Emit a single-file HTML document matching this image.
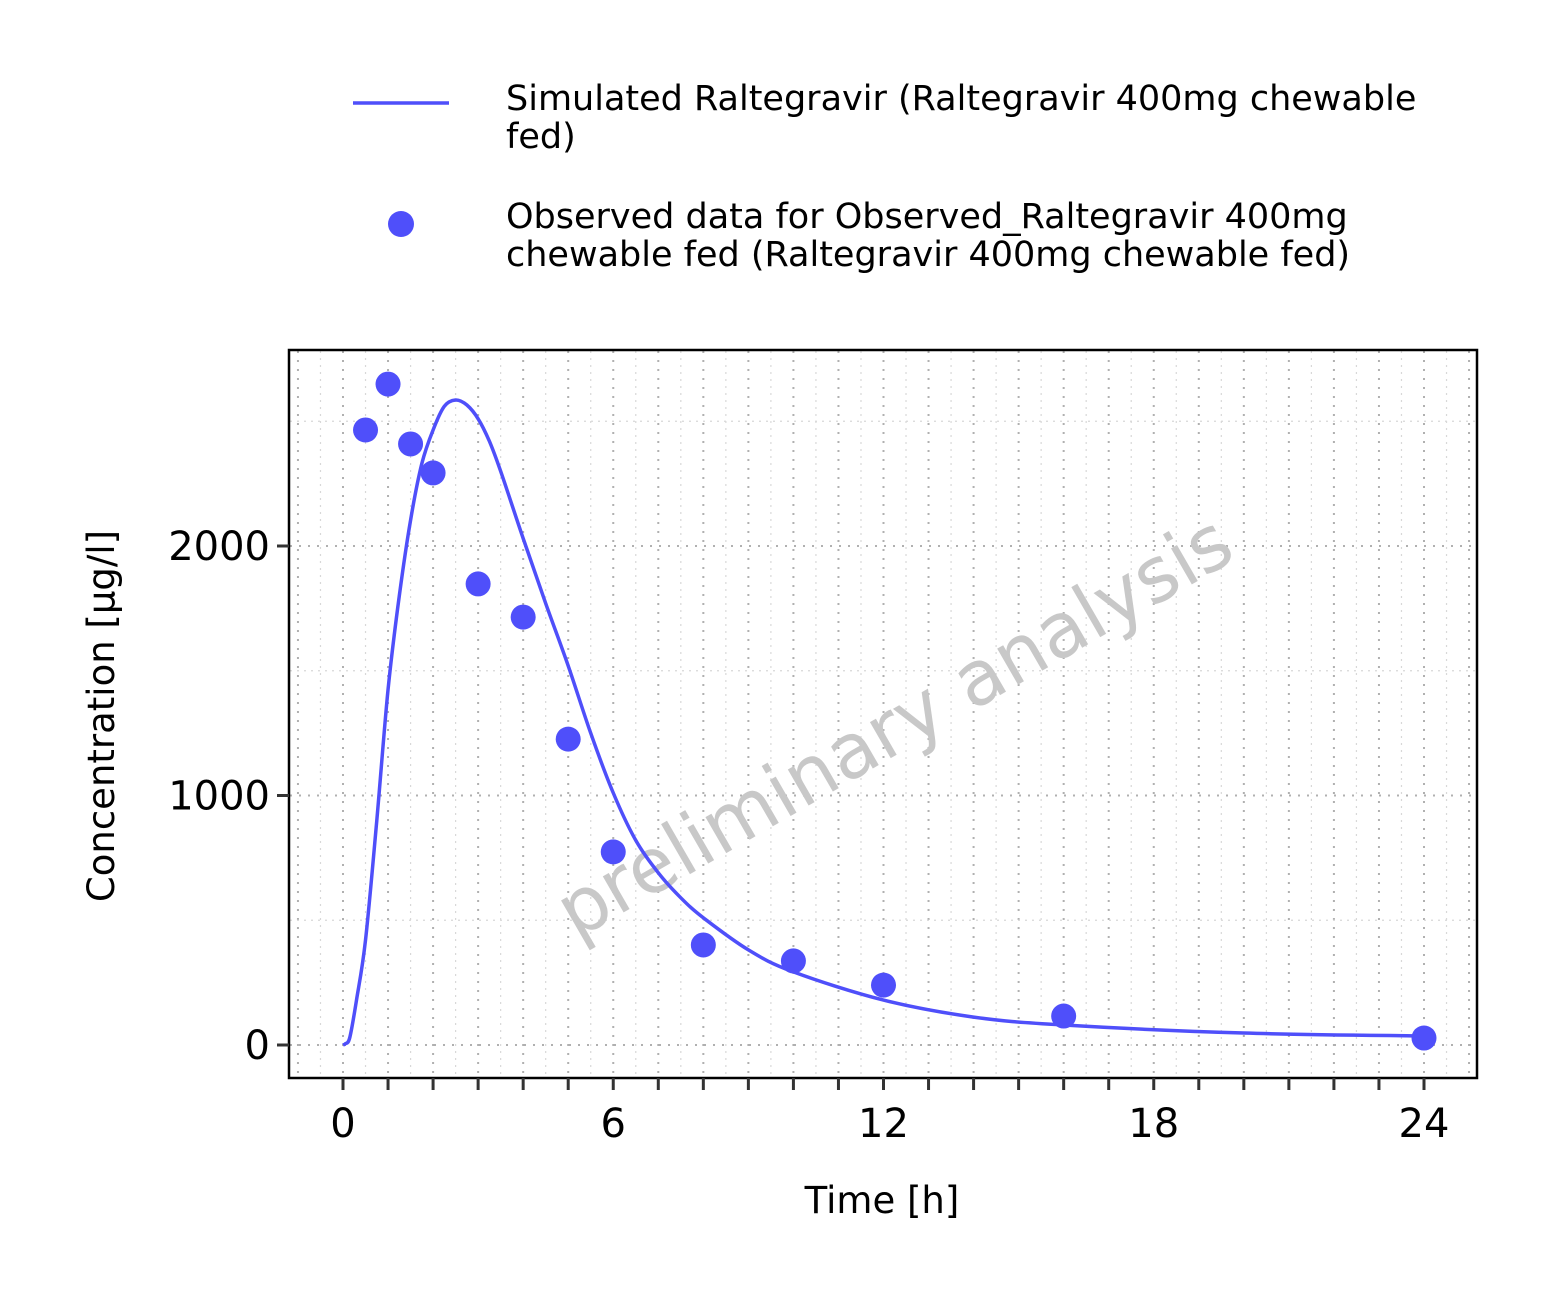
<!DOCTYPE html>
<html><head><meta charset="utf-8"><style>
body{margin:0;background:#fff;font-family:"DejaVu Sans","Liberation Sans",sans-serif;}
</style></head><body>
<svg id="chart" width="1562" height="1307" xmlns="http://www.w3.org/2000/svg" font-family="DejaVu Sans, Liberation Sans, sans-serif">
<rect width="1562" height="1307" fill="#fff"/>
<g id="grid"></g>
<text x="895" y="752" transform="rotate(-30 895 728)" text-anchor="middle" font-size="76" fill="#c8c8c8">preliminary analysis</text>
<g id="marks"></g>
<rect x="289" y="350" width="1188" height="728" fill="none" stroke="#000" stroke-width="2.5"/>
<g id="axes"></g>
<text x="882" y="1213" text-anchor="middle" font-size="37" fill="#000">Time [h]</text>
<text transform="translate(114 716) rotate(-90)" text-anchor="middle" font-size="37" fill="#000">Concentration [µg/l]</text>
<g>
<line x1="353" y1="103" x2="449" y2="103" stroke="#4f4ffa" stroke-width="3.5"/>
<text x="506" y="110" font-size="35" fill="#000"><tspan x="506">Simulated Raltegravir (Raltegravir 400mg chewable</tspan><tspan x="506" dy="38">fed)</tspan></text>
<circle cx="401" cy="224" r="13" fill="#4f4ffa"/>
<text x="506" y="228" font-size="35" fill="#000"><tspan x="506">Observed data for Observed_Raltegravir 400mg</tspan><tspan x="506" dy="38">chewable fed (Raltegravir 400mg chewable fed)</tspan></text>
</g>
</svg>
<script>
const simTime=[0,0.05,0.15,0.3,0.5,0.75,1,1.25,1.5,1.75,2,2.25,2.5,2.75,3,3.25,3.5,4,4.5,5,5.5,6,6.5,7,7.5,8,9,10,12,14,16,20,24];
const simConc=[0,5,30,180,420,900,1423,1800,2104,2330,2465,2560,2585,2565,2510,2420,2300,2030,1770,1520,1250,1010,820,690,590,510,381,293,180,112,80,48,36];
const obsTime=[0.5,1,1.5,2,3,4,5,6,8,10,12,16,24];
const obsConc=[2465,2649,2409,2293,1848,1715,1226,774,401,337,240,116,28];
const xTicks=[0,6,12,18,24];
const yTicks=[0,1000,2000];
const NS="http://www.w3.org/2000/svg";
const X=t=>343+t*(1424-343)/24;
const Y=v=>1045-v*0.2495;
function mk(tag,attrs,parent){const e=document.createElementNS(NS,tag);for(const k in attrs)e.setAttribute(k,attrs[k]);parent.appendChild(e);return e;}
const grid=document.getElementById('grid'),marks=document.getElementById('marks'),axes=document.getElementById('axes');
for(let t=-1;t<=25;t+=0.5){const x=X(t);if(x<290||x>1476)continue;const major=Number.isInteger(t);
const l=mk('line',{x1:x,x2:x,y1:351,y2:1077,stroke:major?'#b0b0b0':'#d8d8d8','stroke-width':major?2:1.2,'stroke-dasharray':major?'2 7':'2 5'},grid);
}
for(let v=0;v<=2500;v+=500){const y=Y(v);const major=v%1000===0;
const l=mk('line',{x1:290,x2:1476,y1:y,y2:y,stroke:major?'#b0b0b0':'#d8d8d8','stroke-width':major?2:1.2,'stroke-dasharray':major?'2 7':'2 5'},grid);
}
for(let t=0;t<=24;t++){const x=X(t);
const l=mk('line',{x1:x,x2:x,y1:1078,y2:1090,stroke:'#333','stroke-width':3},axes);
}
xTicks.forEach(t=>{const e=mk('text',{x:X(t),y:1137,'text-anchor':'middle','font-size':40,fill:'#000'},axes);e.textContent=t;
});
yTicks.forEach(v=>{const l=mk('line',{x1:277,x2:289,y1:Y(v),y2:Y(v),stroke:'#333','stroke-width':3},axes);

const e=mk('text',{x:270,y:Y(v)+14,'text-anchor':'end','font-size':40,fill:'#000'},axes);e.textContent=v;
});
const pts=simTime.map((t,i)=>[X(t),Y(simConc[i])]);
let d='M'+pts[0][0].toFixed(1)+' '+pts[0][1].toFixed(1);
for(let i=0;i<pts.length-1;i++){const p0=pts[Math.max(0,i-1)],p1=pts[i],p2=pts[i+1],p3=pts[Math.min(pts.length-1,i+2)];
const c1=[p1[0]+(p2[0]-p0[0])/6,p1[1]+(p2[1]-p0[1])/6],c2=[p2[0]-(p3[0]-p1[0])/6,p2[1]-(p3[1]-p1[1])/6];
d+=` C${c1[0].toFixed(1)} ${c1[1].toFixed(1)} ${c2[0].toFixed(1)} ${c2[1].toFixed(1)} ${p2[0].toFixed(1)} ${p2[1].toFixed(1)}`;}
const p=mk('path',{d:d,fill:'none',stroke:'#4f4ffa','stroke-width':3.5,'stroke-linejoin':'round'},marks);

obsTime.forEach((t,i)=>{const c=mk('circle',{cx:X(t),cy:Y(obsConc[i]),r:12.5,fill:'#4f4ffa'},marks);
});
</script>
</body></html>
